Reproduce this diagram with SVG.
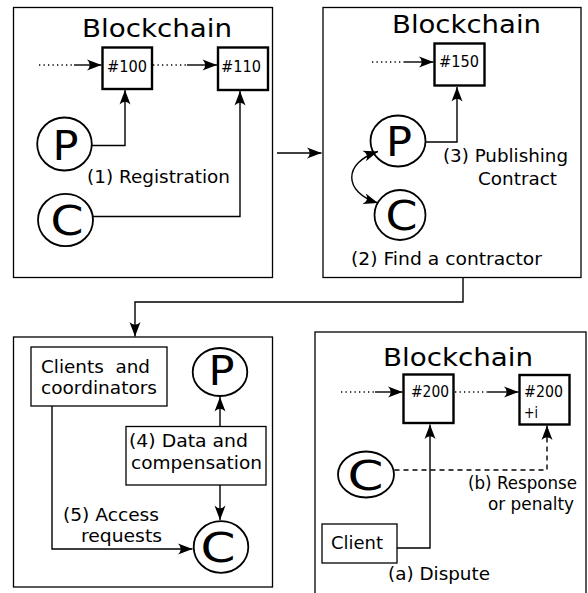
<svg xmlns="http://www.w3.org/2000/svg" width="588" height="593" viewBox="0 0 588 593">
  <style>
    .panel { fill: #fff; stroke: #000; stroke-width: 1.3; }
    .block { fill: #fff; stroke: #000; stroke-width: 2.4; }
    .box { fill: #fff; stroke: #000; stroke-width: 1.3; }
    .actor { fill: #fff; stroke: #000; stroke-width: 1.8; }
    .t { font-family: "DejaVu Sans", "Liberation Sans", sans-serif; fill: #000; }
    .title { font-size: 25.5px; }
    .num { font-size: 15.5px; }
    .lbl { font-size: 17px; }
    .big { font-size: 40px; }
    .link { fill: none; stroke: #000; stroke-width: 1.4; }
    .dot { fill: none; stroke: #000; stroke-width: 1.3; stroke-dasharray: 1.3 3.2; }
    .dash { fill: none; stroke: #000; stroke-width: 1.4; stroke-dasharray: 5 4; }
  </style>
  <defs>
    <marker id="ah" viewBox="-15 -6 16 12" refX="0" refY="0" markerWidth="16" markerHeight="12" markerUnits="userSpaceOnUse" orient="auto-start-reverse">
      <path d="M0,0 L-14.5,-5.5 Q-9,0 -14.5,5.5 Z" fill="#000"/>
    </marker>
  </defs>

  <!-- panel frames -->
  <g id="panel-registration">
    <rect class="panel" x="13.5" y="7.5" width="259" height="270"/>
    <text class="t title" x="82" y="37" textLength="150" lengthAdjust="spacingAndGlyphs">Blockchain</text>
    <text class="t lbl" x="87" y="183" textLength="143" lengthAdjust="spacingAndGlyphs">(1) Registration</text>
  </g>
  <g id="panel-publishing">
    <rect class="panel" x="323" y="7.5" width="258" height="270"/>
    <text class="t title" x="392" y="33" textLength="149" lengthAdjust="spacingAndGlyphs">Blockchain</text>
    <text class="t lbl" x="443" y="162" textLength="125" lengthAdjust="spacingAndGlyphs">(3) Publishing</text>
    <text class="t lbl" x="478" y="185" textLength="79" lengthAdjust="spacingAndGlyphs">Contract</text>
    <text class="t lbl" x="351" y="265" textLength="191" lengthAdjust="spacingAndGlyphs">(2) Find a contractor</text>
  </g>
  <g id="panel-exchange">
    <rect class="panel" x="13.5" y="337" width="259" height="250"/>
    <text class="t lbl" x="63" y="521" textLength="96" lengthAdjust="spacingAndGlyphs">(5) Access</text>
    <text class="t lbl" x="81" y="542" textLength="81" lengthAdjust="spacingAndGlyphs">requests</text>
  </g>
  <g id="panel-dispute">
    <rect class="panel" x="315" y="332" width="271" height="280"/>
    <text class="t title" x="383" y="366" textLength="150" lengthAdjust="spacingAndGlyphs">Blockchain</text>
    <text class="t lbl" x="468" y="489" textLength="109" lengthAdjust="spacingAndGlyphs">(b) Response</text>
    <text class="t lbl" x="488" y="510" textLength="86" lengthAdjust="spacingAndGlyphs">or penalty</text>
    <text class="t lbl" x="388" y="580" textLength="102" lengthAdjust="spacingAndGlyphs">(a) Dispute</text>
  </g>

  <!-- blocks -->
  <g id="block-100">
    <rect class="block" x="102.5" y="47.5" width="49.5" height="41.5"/>
    <text class="t num" x="107" y="72" textLength="40" lengthAdjust="spacingAndGlyphs">#100</text>
  </g>
  <g id="block-110">
    <rect class="block" x="218" y="47.5" width="50" height="42.5"/>
    <text class="t num" x="221" y="72" textLength="40" lengthAdjust="spacingAndGlyphs">#110</text>
  </g>
  <g id="block-150">
    <rect class="block" x="434.5" y="43.5" width="50" height="42"/>
    <text class="t num" x="439" y="67" textLength="40" lengthAdjust="spacingAndGlyphs">#150</text>
  </g>
  <g id="block-200">
    <rect class="block" x="403.5" y="374.5" width="50" height="48.5"/>
    <text class="t num" x="411" y="397" textLength="38" lengthAdjust="spacingAndGlyphs">#200</text>
  </g>
  <g id="block-200i">
    <rect class="block" x="519.5" y="375" width="50" height="49.5"/>
    <text class="t num" x="524" y="397" textLength="39" lengthAdjust="spacingAndGlyphs">#200</text>
    <text class="t num" x="524" y="418" textLength="14" lengthAdjust="spacingAndGlyphs">+i</text>
  </g>

  <!-- actors -->
  <g id="p1">
    <ellipse class="actor" cx="64.5" cy="144" rx="27.3" ry="26.5"/>
    <text class="t big" x="65.5" y="160" text-anchor="middle" font-size="38" textLength="26" lengthAdjust="spacingAndGlyphs">P</text>
  </g>
  <g id="c1">
    <ellipse class="actor" cx="65.5" cy="220" rx="27.5" ry="26.2"/>
    <text class="t big" x="67" y="235" text-anchor="middle" font-size="43" textLength="33" lengthAdjust="spacingAndGlyphs">C</text>
  </g>
  <g id="p2">
    <ellipse class="actor" cx="398" cy="141" rx="27.5" ry="25.5"/>
    <text class="t big" x="399" y="156" text-anchor="middle" font-size="38" textLength="26" lengthAdjust="spacingAndGlyphs">P</text>
  </g>
  <g id="c2">
    <ellipse class="actor" cx="400" cy="215" rx="25.5" ry="25"/>
    <text class="t big" x="401.5" y="230" text-anchor="middle" font-size="43" textLength="32" lengthAdjust="spacingAndGlyphs">C</text>
  </g>
  <g id="p3">
    <ellipse class="actor" cx="220" cy="372" rx="27.3" ry="24"/>
    <text class="t big" x="221.5" y="385" text-anchor="middle" font-size="35" textLength="26" lengthAdjust="spacingAndGlyphs">P</text>
  </g>
  <g id="c3">
    <ellipse class="actor" cx="221" cy="547" rx="27.3" ry="25.8"/>
    <text class="t big" x="218" y="562" text-anchor="middle" font-size="44" textLength="35" lengthAdjust="spacingAndGlyphs">C</text>
  </g>
  <g id="c4">
    <ellipse class="actor" cx="366" cy="474.5" rx="28" ry="23"/>
    <text class="t big" x="365.5" y="490" text-anchor="middle" font-size="44" textLength="36" lengthAdjust="spacingAndGlyphs">C</text>
  </g>

  <!-- boxes -->
  <g id="clients-coordinators">
    <rect class="box" x="31" y="347" width="136" height="59"/>
    <text class="t lbl" x="41" y="373" xml:space="preserve" textLength="109" lengthAdjust="spacingAndGlyphs">Clients  and</text>
    <text class="t lbl" x="41" y="394" textLength="116" lengthAdjust="spacingAndGlyphs">coordinators</text>
  </g>
  <g id="data-compensation">
    <rect class="box" x="126" y="426.5" width="140" height="58.5"/>
    <text class="t lbl" x="129" y="447" textLength="119" lengthAdjust="spacingAndGlyphs">(4) Data and</text>
    <text class="t lbl" x="131" y="469" textLength="131" lengthAdjust="spacingAndGlyphs">compensation</text>
  </g>
  <g id="client">
    <rect class="box" x="322" y="524" width="75" height="39"/>
    <text class="t lbl" x="331" y="549" textLength="52" lengthAdjust="spacingAndGlyphs">Client</text>
  </g>

  <!-- connectors -->
  <g id="connectors">
    <!-- chain links -->
    <path class="dot" d="M39,65 H74"/>
    <path class="link" d="M74,65 H101.5" marker-end="url(#ah)"/>
    <path class="dot" d="M153,65 H187"/>
    <path class="link" d="M187,65 H217" marker-end="url(#ah)"/>
    <path class="dot" d="M372,62 H404"/>
    <path class="link" d="M404,62 H433.5" marker-end="url(#ah)"/>
    <path class="dot" d="M341,392 H375"/>
    <path class="link" d="M375,392 H402.5" marker-end="url(#ah)"/>
    <path class="dot" d="M455,392 H488"/>
    <path class="link" d="M488,392 H518.5" marker-end="url(#ah)"/>

    <!-- registration -->
    <path class="link" d="M92,145.5 H125 V90" marker-end="url(#ah)"/>
    <path class="link" d="M93,216.5 H240 V91" marker-end="url(#ah)"/>

    <!-- step flow between panels -->
    <path class="link" d="M277,153 H321.5" marker-end="url(#ah)"/>
    <path class="link" d="M463,278 V302 H135 V336.5" marker-end="url(#ah)"/>

    <!-- find a contractor / publishing -->
    <path class="link" d="M378,151.5 C343,163 343,192 378,203" marker-start="url(#ah)" marker-end="url(#ah)"/>
    <path class="link" d="M426,142 H457 V87" marker-end="url(#ah)"/>

    <!-- data exchange -->
    <path class="link" d="M220,426 V397" marker-end="url(#ah)"/>
    <path class="link" d="M220,485 V520" marker-end="url(#ah)"/>
    <path class="link" d="M52,406 V549 H192.5" marker-end="url(#ah)"/>

    <!-- dispute -->
    <path class="link" d="M397,548 H430 V424.5" marker-end="url(#ah)"/>
    <path class="dash" d="M394.5,470 H547 V440"/>
    <path class="link" d="M547,440 V425.5" marker-end="url(#ah)"/>
  </g>
</svg>
